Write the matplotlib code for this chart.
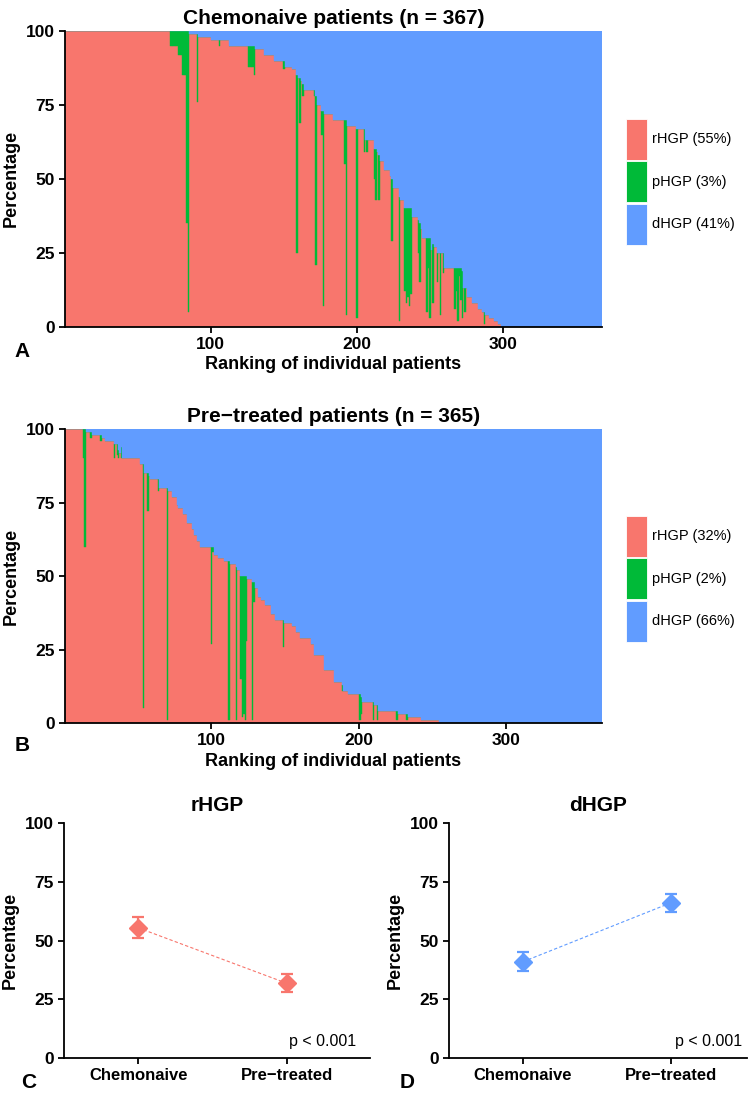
import numpy as np
import matplotlib.pyplot as plt
from matplotlib.patches import Patch

plt.rcParams['font.family'] = ['Liberation Sans', 'DejaVu Sans']

RED, GREEN, BLUE = '#F8766D', '#00BA38', '#619CFF'

# per-patient growth pattern scores, as runs of (patients, rHGP %, pHGP %); dHGP is the rest
chemo_runs = [
    (72, 100, 0), (5, 95, 5), (3, 92, 8), (3, 85, 15), (1, 35, 65), (1, 5, 95),
    (5, 99, 0), (1, 76, 23), (9, 98, 0), (5, 97, 0), (1, 95, 2), (6, 97, 0),
    (13, 95, 0), (4, 88, 7), (1, 85, 10), (6, 94, 0), (7, 92, 0), (6, 90, 0),
    (1, 87, 3), (5, 88, 0), (3, 87, 0), (1, 25, 60), (1, 84, 0), (1, 69, 15),
    (1, 83, 0), (1, 78, 4), (7, 80, 0), (1, 78, 2), (1, 21, 57), (3, 75, 0),
    (1, 65, 8), (1, 7, 66), (6, 72, 0), (8, 70, 0), (1, 55, 15), (1, 4, 66),
    (6, 68, 0), (1, 3, 64), (4, 67, 0), (1, 59, 8), (1, 63, 0), (1, 59, 4),
    (4, 63, 0), (1, 50, 10), (1, 43, 17), (1, 59, 0), (1, 43, 15), (3, 56, 0),
    (4, 53, 0), (1, 51, 0), (1, 29, 21), (4, 47, 0), (1, 2, 42), (3, 43, 0),
    (1, 12, 28), (1, 8, 32), (1, 10, 30), (1, 7, 33), (1, 11, 29), (4, 37, 0),
    (1, 25, 11), (1, 15, 20), (1, 33, 0), (3, 30, 0), (1, 5, 25), (1, 20, 10),
    (1, 3, 27), (1, 26, 0), (1, 8, 20), (2, 27, 0), (1, 15, 10), (1, 25, 0),
    (1, 4, 21), (1, 25, 0), (1, 18, 7), (7, 20, 0), (1, 6, 14), (1, 12, 8),
    (1, 2, 18), (1, 17, 3), (1, 9, 11), (1, 3, 16), (1, 13, 0), (1, 5, 8),
    (1, 13, 0), (3, 10, 0), (4, 8, 0), (3, 6, 0), (1, 5, 0), (1, 1, 4),
    (3, 4, 0), (3, 3, 0), (3, 2, 0), (2, 1, 0), (69, 0, 0),
]
pre_runs = [
    (12, 100, 0), (1, 90, 10), (1, 60, 40), (3, 99, 0), (1, 97, 2), (6, 98, 0),
    (1, 96, 2), (2, 97, 0), (6, 96, 0), (1, 90, 5), (1, 95, 0), (1, 91, 4),
    (1, 90, 3), (1, 92, 0), (1, 90, 4), (12, 90, 0), (2, 88, 0), (1, 5, 83),
    (2, 85, 0), (1, 72, 13), (1, 84, 0), (5, 83, 0), (1, 79, 4), (5, 80, 0),
    (1, 1, 79), (3, 79, 0), (3, 77, 0), (1, 74, 0), (3, 73, 0), (3, 71, 0),
    (3, 68, 0), (2, 66, 0), (2, 64, 0), (2, 62, 0), (7, 60, 0), (1, 27, 33),
    (1, 58, 2), (3, 57, 0), (4, 56, 0), (3, 55, 0), (1, 1, 54), (4, 54, 0),
    (1, 1, 52), (2, 52, 0), (1, 15, 35), (1, 2, 48), (1, 3, 47), (1, 1, 49),
    (1, 28, 22), (3, 49, 0), (1, 1, 47), (1, 41, 7), (2, 46, 0), (2, 43, 0),
    (3, 42, 0), (4, 40, 0), (3, 37, 0), (5, 35, 0), (1, 26, 9), (5, 34, 0),
    (3, 33, 0), (3, 31, 0), (7, 29, 0), (2, 27, 0), (7, 23, 0), (7, 18, 0),
    (5, 14, 0), (1, 11, 2), (3, 11, 0), (8, 10, 0), (1, 1, 9), (1, 3, 6),
    (7, 7, 0), (1, 1, 6), (2, 6, 0), (1, 1, 5), (12, 4, 0), (1, 1, 3),
    (6, 3, 0), (1, 1, 2), (9, 2, 0), (12, 1, 0), (111, 0, 0),
]
chemo_labels = ['rHGP (55%)', 'pHGP (3%)', 'dHGP (41%)']
pre_labels = ['rHGP (32%)', 'pHGP (2%)', 'dHGP (66%)']

groups = ['Chemonaive', 'Pre\u2212treated']
rhgp_mean = [55.4, 31.8]
rhgp_lo = [50.9, 28.0]
rhgp_hi = [59.9, 35.6]
dhgp_mean = [41.0, 66.1]
dhgp_lo = [37.0, 62.3]
dhgp_hi = [45.2, 69.8]


def expand(runs):
    counts, r, p = zip(*runs)
    r = np.repeat(r, counts).astype(float)
    p = np.repeat(p, counts).astype(float)
    return r, p, 100 - r - p


def style_axes(ax, tick_size=12.5):
    for s in ['top', 'right']:
        ax.spines[s].set_visible(False)
    for s in ['left', 'bottom']:
        ax.spines[s].set_linewidth(1.3)
    ax.tick_params(length=4, width=1.3, labelsize=tick_size, colors='black')
    for lab in ax.get_xticklabels() + ax.get_yticklabels():
        lab.set_fontweight('bold')


def stacked(ax, runs, title, labels):
    r, p, d = expand(runs)
    x = np.arange(1, len(r) + 1)
    ax.bar(x, r, width=1.0, color=RED, edgecolor=RED, linewidth=0.3)
    ax.bar(x, p, bottom=r, width=1.0, color=GREEN, edgecolor=GREEN, linewidth=0.3)
    ax.bar(x, d, bottom=r + p, width=1.0, color=BLUE, edgecolor=BLUE, linewidth=0.3)
    ax.set_xlim(0.5, len(r) + 0.5)
    ax.set_ylim(0, 100)
    ax.set_xticks([100, 200, 300])
    ax.set_yticks([0, 25, 50, 75, 100])
    style_axes(ax)
    ax.set_title(title, fontsize=15, fontweight='bold', pad=5)
    ax.set_ylabel('Percentage', fontsize=13, fontweight='bold', labelpad=4)
    ax.set_xlabel('Ranking of individual patients', fontsize=13, fontweight='bold', labelpad=3)
    handles = [Patch(facecolor=c, edgecolor='white', linewidth=0.6) for c in (RED, GREEN, BLUE)]
    ax.legend(handles, labels, loc='center left', bbox_to_anchor=(1.045, 0.49),
              frameon=False, fontsize=10.5, handlelength=1.4, handleheight=3.95,
              labelspacing=0.1, handletextpad=0.35, borderpad=0, borderaxespad=0)


def summary(ax, mean, lo, hi, color, title, xmax, ptx):
    mean, lo, hi = map(np.array, (mean, lo, hi))
    x = np.array([1, 2])
    ax.plot(x, mean, ls='--', lw=0.8, color=color, dashes=(3, 2))
    ax.errorbar(x, mean, yerr=[mean - lo, hi - mean], fmt='D', color=color,
                markersize=9.5, capsize=4.5, elinewidth=1.6, capthick=1.6)
    ax.set_xlim(0.5, xmax)
    ax.set_ylim(0, 100)
    ax.set_xticks(x)
    ax.set_xticklabels(groups)
    ax.set_yticks([0, 25, 50, 75, 100])
    style_axes(ax)
    for lab in ax.get_xticklabels():
        lab.set_fontsize(12)
    ax.set_title(title, fontsize=15, fontweight='bold', pad=9)
    ax.set_ylabel('Percentage', fontsize=13, fontweight='bold', labelpad=4)
    ax.text(ptx, 0.05, 'p < 0.001', transform=ax.transAxes, ha='right',
            va='baseline', fontsize=11.5)


fig = plt.figure(figsize=(7.5, 10.93), dpi=100)

axA = fig.add_axes([0.0867, 0.7011, 0.716, 0.2705])
stacked(axA, chemo_runs, 'Chemonaive patients (n = 367)', chemo_labels)

axB = fig.add_axes([0.0867, 0.3385, 0.716, 0.269])
stacked(axB, pre_runs, 'Pre\u2212treated patients (n = 365)', pre_labels)

axC = fig.add_axes([0.0853, 0.032, 0.408, 0.215])
summary(axC, rhgp_mean, rhgp_lo, rhgp_hi, RED, 'rHGP', 2.56, 0.955)

axD = fig.add_axes([0.5987, 0.032, 0.397, 0.215])
summary(axD, dhgp_mean, dhgp_lo, dhgp_hi, BLUE, 'dHGP', 2.51, 0.985)

for lab, x, y in [('A', 0.03, 0.678), ('B', 0.03, 0.3175), ('C', 0.038, 0.01), ('D', 0.543, 0.01)]:
    fig.text(x, y, lab, fontsize=15, fontweight='bold', ha='center', va='center')

fig.savefig('out.png', dpi=100)
